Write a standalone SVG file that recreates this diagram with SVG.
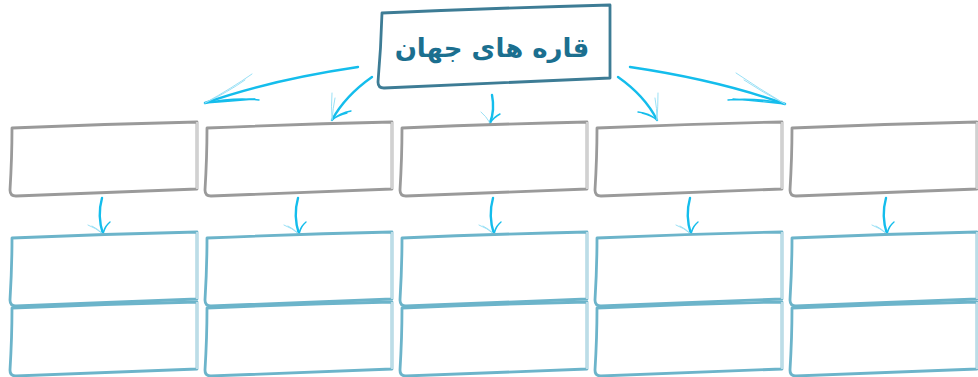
<svg xmlns="http://www.w3.org/2000/svg" width="978" height="377" viewBox="0 0 978 377">
<defs>
<style>
.gray{fill:#fff;stroke:#9a9a9a;stroke-width:2.8;stroke-linejoin:round}
.blue{fill:#fff;stroke:#6cb4ca;stroke-width:2.8;stroke-linejoin:round}
.title{fill:#fff;stroke:#3d7c95;stroke-width:2.8;stroke-linejoin:round}
.edge{fill:none;stroke:#fff;stroke-width:2.2;opacity:0.55}
.arr{fill:none;stroke:#14bdec;stroke-width:2.4;stroke-linecap:round}
.barb{fill:none;stroke:#14bdec;stroke-width:1.4;stroke-linecap:round}
.thin{fill:none;stroke:#8fdcf4;stroke-width:0.9;stroke-linecap:round}
.lbl{font-family:"DejaVu Sans","Noto Sans",sans-serif;font-weight:bold;font-size:26px;fill:#1b6f8f}
</style>
<path id="box" d="M2,6 Q95,2 187,0 L187,67 L6,74 Q0,74 0,68 Q2,35 2,6 Z"/>
<path id="redge" d="M187,0 L187,67" />
<g id="vhead">
<path class="arr" d="M0,0 Q-5,18 1,36"/>
<path class="barb" d="M1,36 Q3,28 8,24 M1,36 Q2,30 6,26"/>
<path class="thin" d="M1,36 Q-6,30 -14,27 M1,36 Q-4,31 -10,28"/>
</g>
</defs>

<g id="connectors">
<path class="arr" d="M358,67 Q270,80 205,103"/>
<path class="barb" d="M205,103 Q235,97 259,100 M205,103 Q232,101 255,99"/>
<path class="thin" d="M205,103 Q232,88 252,74 M205,103 Q228,92 245,80"/>

<path class="arr" d="M372,77 Q345,96 332,120"/>
<path class="barb" d="M332,120 Q340,113 351,111 M332,120 Q338,115 347,113"/>
<path class="thin" d="M332,120 Q331,106 332,93 M332,120 Q333,108 335,98"/>

<path class="arr" d="M492,95 Q495,110 490,123"/>
<path class="barb" d="M490,123 Q494,117 500,114 M490,123 Q493,118 497,116"/>
<path class="thin" d="M490,123 Q486,116 481,112"/>

<path class="arr" d="M618,77 Q645,96 657,120"/>
<path class="barb" d="M657,120 Q649,113 638,112 M657,120 Q651,115 642,113"/>
<path class="thin" d="M657,120 Q658,106 658,93 M657,120 Q657,108 655,98"/>

<path class="arr" d="M630,67 Q718,80 785,104"/>
<path class="barb" d="M785,104 Q755,97 728,100 M785,104 Q758,101 733,99"/>
<path class="thin" d="M785,104 Q758,88 736,73 M785,104 Q762,92 744,80"/>

<use href="#vhead" transform="translate(102,198)"/>
<use href="#vhead" transform="translate(298,198)"/>
<use href="#vhead" transform="translate(493,198)"/>
<use href="#vhead" transform="translate(690,198)"/>
<use href="#vhead" transform="translate(886,198)"/>
</g>

<g id="title">
<path class="title" d="M382,13 Q495,8 610,5 L610,78 L384,88 Q378,88 378,82 Q381,48 382,13 Z"/>
<text class="lbl" x="492" y="57" text-anchor="middle" direction="rtl">قاره های جهان</text>
</g>

<g id="g1"><use href="#box" class="gray" transform="translate(10,122)"/><use href="#redge" class="edge" transform="translate(10,122)"/></g>
<g id="g2"><use href="#box" class="gray" transform="translate(205,122)"/><use href="#redge" class="edge" transform="translate(205,122)"/></g>
<g id="g3"><use href="#box" class="gray" transform="translate(400,122)"/><use href="#redge" class="edge" transform="translate(400,122)"/></g>
<g id="g4"><use href="#box" class="gray" transform="translate(595,122)"/><use href="#redge" class="edge" transform="translate(595,122)"/></g>
<g id="g5"><use href="#box" class="gray" transform="translate(790,122)"/><use href="#redge" class="edge" transform="translate(790,122)"/></g>

<g id="b1a"><use href="#box" class="blue" transform="translate(10,232)"/><use href="#redge" class="edge" transform="translate(10,232)"/></g>
<g id="b2a"><use href="#box" class="blue" transform="translate(205,232)"/><use href="#redge" class="edge" transform="translate(205,232)"/></g>
<g id="b3a"><use href="#box" class="blue" transform="translate(400,232)"/><use href="#redge" class="edge" transform="translate(400,232)"/></g>
<g id="b4a"><use href="#box" class="blue" transform="translate(595,232)"/><use href="#redge" class="edge" transform="translate(595,232)"/></g>
<g id="b5a"><use href="#box" class="blue" transform="translate(790,232)"/><use href="#redge" class="edge" transform="translate(790,232)"/></g>

<g id="b1b"><use href="#box" class="blue" transform="translate(10,302)"/><use href="#redge" class="edge" transform="translate(10,302)"/></g>
<g id="b2b"><use href="#box" class="blue" transform="translate(205,302)"/><use href="#redge" class="edge" transform="translate(205,302)"/></g>
<g id="b3b"><use href="#box" class="blue" transform="translate(400,302)"/><use href="#redge" class="edge" transform="translate(400,302)"/></g>
<g id="b4b"><use href="#box" class="blue" transform="translate(595,302)"/><use href="#redge" class="edge" transform="translate(595,302)"/></g>
<g id="b5b"><use href="#box" class="blue" transform="translate(790,302)"/><use href="#redge" class="edge" transform="translate(790,302)"/></g>
</svg>
